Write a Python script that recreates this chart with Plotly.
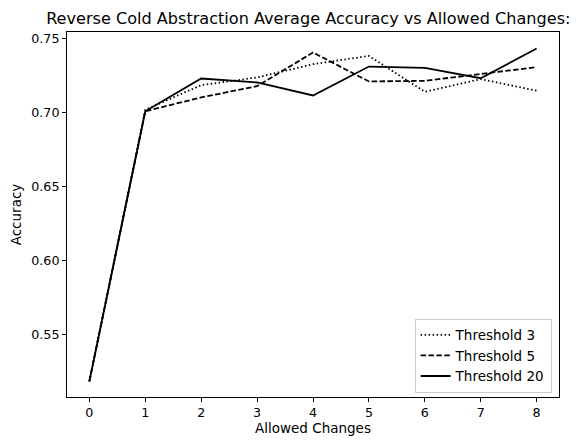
import plotly.graph_objects as go

allowed_changes = [0, 1, 2, 3, 4, 5, 6, 7, 8]
threshold_3 = [0.518, 0.702, 0.7187, 0.7239, 0.7329, 0.7385, 0.7142, 0.7228, 0.7149]
threshold_5 = [0.518, 0.701, 0.7104, 0.7180, 0.7408, 0.7212, 0.7216, 0.7261, 0.7309]
threshold_20 = [0.518, 0.701, 0.7232, 0.7205, 0.7117, 0.7313, 0.7304, 0.7234, 0.7435]
series_names = ["Threshold 3", "Threshold 5", "Threshold 20"]

FONT = "DejaVu Sans"
fig = go.Figure()
styles = ["1.5px,2.5px", "5.5px,2.4px", "solid"]
for name, vals, dash in zip(series_names, [threshold_3, threshold_5, threshold_20], styles):
    fig.add_trace(go.Scatter(x=allowed_changes, y=vals, mode="lines", name=name,
                             line=dict(color="black", width=1.8, dash=dash)))

# The page has an 8px body margin, so the figure is sized to fit the 580x440 window.
fig.update_layout(
    width=572, height=432,
    margin=dict(l=59, r=21, t=24, b=43, autoexpand=False),
    paper_bgcolor="white", plot_bgcolor="white",
    font=dict(family=FONT, size=12.7, color="black"),
    title=dict(text="Reverse Cold Abstraction Average Accuracy vs Allowed Changes:",
               x=0.525, xanchor="center", y=0.988, yanchor="top",
               font=dict(size=16.1, family=FONT, color="black"), automargin=False),
    showlegend=True,
    legend=dict(x=0.985, y=0.012, xanchor="right", yanchor="bottom",
                bordercolor="#cccccc", borderwidth=1, bgcolor="white",
                font=dict(size=13.5, family=FONT), tracegroupgap=0,
                itemwidth=30),
)
fig.update_xaxes(range=[-0.4, 8.4], tickmode="array", tickvals=allowed_changes,
                 showgrid=False, zeroline=False, showline=True, mirror=True,
                 linecolor="black", linewidth=1, ticks="outside", ticklen=4,
                 tickcolor="black", automargin=False,
                 title=dict(text="Allowed Changes", font=dict(size=13.5), standoff=4))
fig.update_yaxes(range=[0.5074, 0.7547], tickmode="array",
                 tickvals=[0.55, 0.60, 0.65, 0.70, 0.75], ticktext=["0.55", "0.60", "0.65", "0.70", "0.75"],
                 showgrid=False, zeroline=False, showline=True, mirror=True,
                 linecolor="black", linewidth=1, ticks="outside", ticklen=4,
                 tickcolor="black", automargin=False,
                 title=dict(text="Accuracy", font=dict(size=13.5), standoff=10))

fig.write_html("out.html")
